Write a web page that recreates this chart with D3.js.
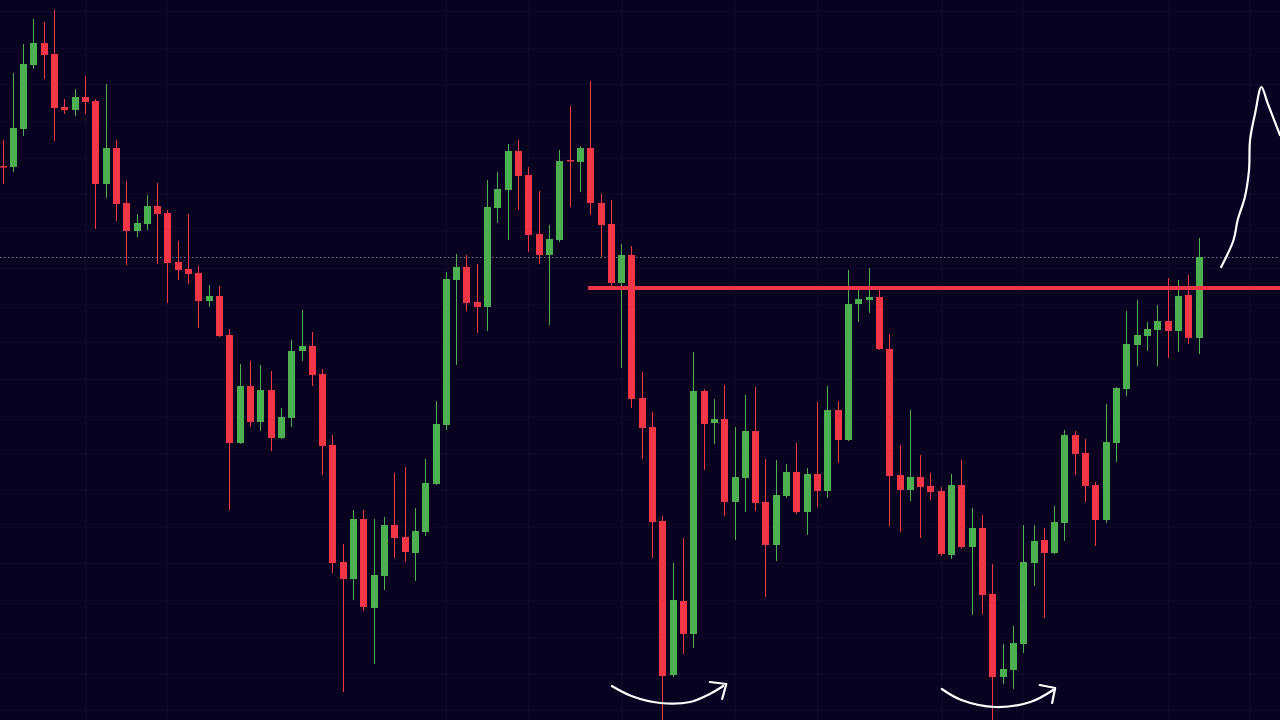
<!DOCTYPE html>
<html><head><meta charset="utf-8">
<script src="https://cdn.jsdelivr.net/npm/d3@7"></script>
<style>html,body{margin:0;padding:0;background:#080120;overflow:hidden}</style>
</head><body><svg id="c" width="1280" height="720"></svg>
<script>
const openP=[554,553,591,655,677,666,613,610,623,619,536,572,517,489,496,514,507,458,451,447,419,424,385,277,334,298,330,282,302,369,374,346,275,158,141,201,112,144,195,183,167,188,236,295,440,453,418,413,512,530,569,545,486,465,480,560,558,572,517,496,437,465,322,293,199,45,119,86,329,297,301,218,242,289,218,175,224,248,208,246,229,310,280,416,420,423,371,245,230,243,234,229,165,235,173,192,126,43,50,76,157,180,167,197,285,267,235,200,277,331,375,384,390,399,389,425,382];
const highP=[580,647,676,701,698,710,621,631,644,621,636,580,539,506,525,537,510,479,506,454,435,434,391,356,359,355,349,312,380,410,388,351,285,176,210,210,201,203,247,253,212,261,319,448,466,465,456,540,548,576,580,553,529,495,570,614,574,639,526,520,476,474,348,308,204,157,182,368,331,321,335,293,325,333,261,260,256,277,252,318,334,319,450,433,452,431,386,275,310,265,247,233,246,260,212,205,156,76,94,195,195,192,214,290,289,281,238,316,333,409,420,398,415,442,440,445,482];
const lowP=[536,548,584,651,641,579,606,604,606,491,522,499,455,483,490,456,417,440,436,392,413,383,210,276,293,289,269,281,293,359,334,245,147,28,120,109,56,130,162,158,139,184,235,290,355,409,387,389,497,480,510,468,456,395,478,513,528,505,463,433,352,312,261,162,-2,43,66,72,250,276,204,180,208,209,123,159,222,206,185,213,222,257,279,398,407,370,194,188,219,182,220,164,161,171,105,106,-2,36,31,67,134,102,166,179,245,218,174,197,258,324,354,369,354,362,368,376,366];
const closeP=[553,592,656,677,665,612,610,623,618,536,572,516,489,497,514,506,457,450,446,419,424,384,277,334,298,330,282,303,369,374,345,274,157,141,201,113,145,195,182,168,189,237,296,441,453,417,413,513,531,569,544,485,465,481,559,559,572,517,495,437,465,321,292,198,44,120,86,329,296,301,218,243,289,217,175,225,248,208,246,229,310,280,416,421,423,371,244,230,243,233,228,166,235,173,192,125,43,51,77,158,179,167,198,285,266,234,200,278,332,376,385,391,399,389,424,382,463];

const gridPrices=[709,672,636,599,562,526,489,452,416,378,341,304,267,230,193,157,120,83,46,10];
const gridIdx=[8,16,43,51,60,71,79,91,99,113,121];
const dottedLevel=462.7;
const resistance={fromIdx:56.8,price:432};
const arc1=[[59.1,34],[61,24],[63.8,17],[66.7,18],[68.6,26],[69.9,34]];
const arrow1=[[68.6,38],[70.2,36],[69.8,21]];
const arc2=[[91.1,31],[93,20],[96.3,13],[99.7,18],[101.9,30]];
const arrow2=[[100.6,35],[102.1,32],[101.8,17]];
const zig=[[118.2,453],[119.4,480],[119.8,500],[120.5,523],[120.9,550],[121.0,580],[121.5,607],[122.1,633],[122.7,617],[123.9,585]];

const W=1280,H=720;
const svg=d3.select('#c');
const x=d3.scaleLinear().domain([0,116]).range([2.5,1198.5]);
const y=d3.scaleLinear().domain([0,720]).range([720,0]);
const GREEN='#4caf50',RED='#f23645';

svg.append('rect').attr('width',W).attr('height',H).attr('fill','#080120');

const g=svg.append('g');
g.selectAll('.hg').data(gridPrices).join('line')
 .attr('x1',0).attr('x2',W)
 .attr('y1',d=>Math.round(y(d))+0.5).attr('y2',d=>Math.round(y(d))+0.5)
 .attr('stroke','#0f0828').attr('stroke-width',1);
g.selectAll('.vg').data(gridIdx).join('line')
 .attr('y1',0).attr('y2',H)
 .attr('x1',d=>Math.round(x(d))+0.5).attr('x2',d=>Math.round(x(d))+0.5)
 .attr('stroke','#0f0828').attr('stroke-width',1);

svg.append('line').attr('x1',0).attr('x2',W)
 .attr('y1',Math.round(y(dottedLevel))+0.5).attr('y2',Math.round(y(dottedLevel))+0.5)
 .attr('stroke','#6f8f88').attr('stroke-width',1).attr('stroke-dasharray','1.5,2.5');

const data=openP.map((o,i)=>({i,o,h:highP[i],l:lowP[i],c:closeP[i]}));
const cg=svg.append('g');
const cand=cg.selectAll('g').data(data).join('g');
cand.append('line')
 .attr('x1',d=>Math.round(x(d.i))+0.5).attr('x2',d=>Math.round(x(d.i))+0.5)
 .attr('y1',d=>y(d.h)).attr('y2',d=>y(d.l))
 .attr('stroke',d=>d.c>=d.o?GREEN:RED).attr('stroke-width',1);
cand.append('rect')
 .attr('x',d=>Math.round(x(d.i))-3).attr('width',7)
 .attr('y',d=>y(Math.max(d.o,d.c)))
 .attr('height',d=>Math.max(1.5,Math.abs(y(d.o)-y(d.c))))
 .attr('fill',d=>d.c>=d.o?GREEN:RED);

svg.append('line')
 .attr('x1',x(resistance.fromIdx)).attr('x2',W)
 .attr('y1',y(resistance.price)).attr('y2',y(resistance.price))
 .attr('stroke',RED).attr('stroke-width',4);

const curve=d3.line().x(d=>x(d[0])).y(d=>y(d[1])).curve(d3.curveCatmullRom);
const poly=d3.line().x(d=>x(d[0])).y(d=>y(d[1]));
const ann=svg.append('g').attr('fill','none').attr('stroke','#ffffff')
 .attr('stroke-width',2.2).attr('stroke-linecap','round').attr('stroke-linejoin','round');
ann.append('path').attr('d',curve(arc1));
ann.append('path').attr('d',poly(arrow1));
ann.append('path').attr('d',curve(arc2));
ann.append('path').attr('d',poly(arrow2));
ann.append('path').attr('d',curve(zig));
</script></body></html>
